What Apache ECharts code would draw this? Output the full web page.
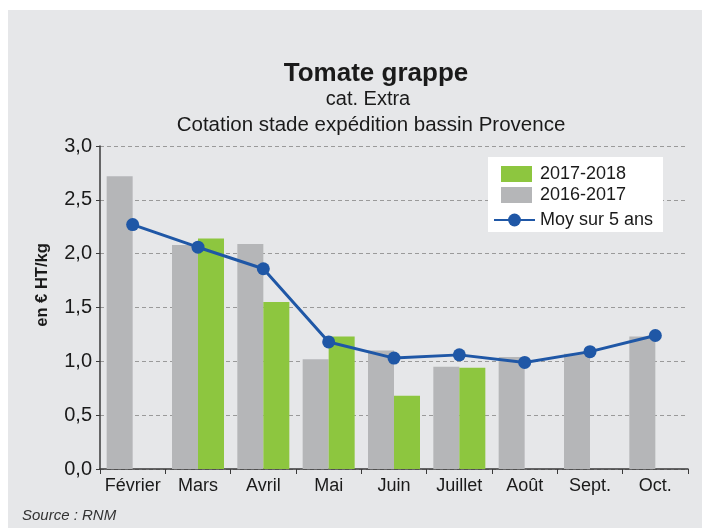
<!DOCTYPE html>
<html lang="fr">
<head>
    <meta charset="UTF-8">
    <title>Tomate grappe</title>
    <style>
        html, body { margin: 0; padding: 0; background: #ffffff; }
        #main { width: 702px; height: 528px; }
    </style>
</head>
<body>
<div id="main"></div>
<script src="https://cdn.jsdelivr.net/npm/echarts@6/dist/echarts.min.js"></script>
<script type="text/javascript">
    // mois
    var months = ['Février', 'Mars', 'Avril', 'Mai', 'Juin', 'Juillet', 'Août', 'Sept.', 'Oct.'];
    // prix en € HT/kg
    var saison2016 = [2.72, 2.08, 2.09, 1.02, 1.10, 0.95, 1.04, 1.07, 1.23];
    var saison2017 = [null, 2.14, 1.55, 1.23, 0.68, 0.94, null, null, null];
    var moy5ans = [2.27, 2.06, 1.86, 1.18, 1.03, 1.06, 0.99, 1.09, 1.24];
    var yTicks = [0, 0.5, 1.0, 1.5, 2.0, 2.5, 3.0];

    var font = 'Liberation Sans, Arial, sans-serif';
    var txt = '#1a1a1a';
    var myChart = echarts.init(document.getElementById('main'));

    const option = {
        backgroundColor: '#ffffff',
        animation: false,
        textStyle: {fontFamily: font},
        graphic: [
            {
                type: 'rect',
                z: -10,
                shape: {x: 8, y: 10, width: 694, height: 518},
                style: {fill: '#e6e7e9'}
            },
            // fond blanc de la légende (au-dessus des lignes de grille)
            {
                type: 'rect',
                z: 3,
                shape: {x: 488, y: 157, width: 175, height: 75},
                style: {fill: '#ffffff'}
            },
            {
                type: 'text', x: 376, y: 74,
                style: {text: 'Tomate grappe', font: 'bold 26px ' + font, fill: txt, align: 'center', verticalAlign: 'middle'}
            },
            {
                type: 'text', x: 368, y: 99,
                style: {text: 'cat. Extra', font: '20px ' + font, fill: txt, align: 'center', verticalAlign: 'middle'}
            },
            {
                type: 'text', x: 371, y: 125,
                style: {text: 'Cotation stade expédition bassin Provence', font: '20.5px ' + font, fill: txt, align: 'center', verticalAlign: 'middle'}
            },
            {
                type: 'text', x: 42, y: 285, rotation: Math.PI / 2,
                style: {text: 'en € HT/kg', font: 'bold 16.5px ' + font, fill: txt, align: 'center', verticalAlign: 'middle'}
            },
            {
                type: 'text', x: 22, y: 516,
                style: {text: 'Source : RNM', font: 'italic 15px ' + font, fill: '#333', verticalAlign: 'middle'}
            }
        ],
        legend: [
            {
                orient: 'vertical',
                left: 501,
                top: 165,
                padding: 0,
                itemGap: 3,
                itemWidth: 31,
                itemHeight: 16,
                z: 6,
                textStyle: {fontSize: 18, color: txt, padding: [0, 0, 0, 3]},
                data: [
                    {name: '2017-2018', icon: 'rect'},
                    {name: '2016-2017', icon: 'rect'}
                ]
            },
            {
                orient: 'vertical',
                left: 493,
                top: 211,
                padding: 0,
                itemWidth: 41,
                itemHeight: 16,
                z: 6,
                textStyle: {fontSize: 18, color: txt},
                data: ['Moy sur 5 ans']
            }
        ],
        grid: {left: 100, right: 14, top: 146, bottom: 59},
        xAxis: {
            type: 'category',
            data: months,
            axisLine: {lineStyle: {color: '#3a3a3a', width: 1.5}},
            axisTick: {show: true, interval: 0, length: 5, lineStyle: {color: '#3a3a3a'}},
            axisLabel: {interval: 0, fontSize: 18, color: txt, margin: 8}
        },
        yAxis: {
            type: 'value',
            min: yTicks[0],
            max: yTicks[yTicks.length - 1],
            interval: 0.5,
            axisLine: {show: true, lineStyle: {color: '#3a3a3a', width: 1.5}},
            axisTick: {show: true, length: 4, lineStyle: {color: '#3a3a3a'}},
            axisLabel: {
                fontSize: 20, color: txt, margin: 8,
                formatter: function (v) { return v.toFixed(1).replace('.', ','); }
            },
            splitLine: {lineStyle: {color: '#9a9a9a', type: [4, 3], width: 1}}
        },
        series: [
            {
                name: '2016-2017',
                type: 'bar',
                data: saison2016,
                barWidth: 26,
                barGap: '0%',
                itemStyle: {color: '#b5b6b8'}
            },
            {
                name: '2017-2018',
                type: 'bar',
                data: saison2017,
                barWidth: 26,
                barGap: '0%',
                itemStyle: {color: '#8dc63f'}
            },
            {
                name: 'Moy sur 5 ans',
                type: 'line',
                data: moy5ans,
                symbol: 'circle',
                symbolSize: 13,
                lineStyle: {color: '#1f57a6', width: 3},
                itemStyle: {color: '#1f57a6'},
                z: 5
            }
        ]
    };
    myChart.setOption(option);
</script>
</body>
</html>
